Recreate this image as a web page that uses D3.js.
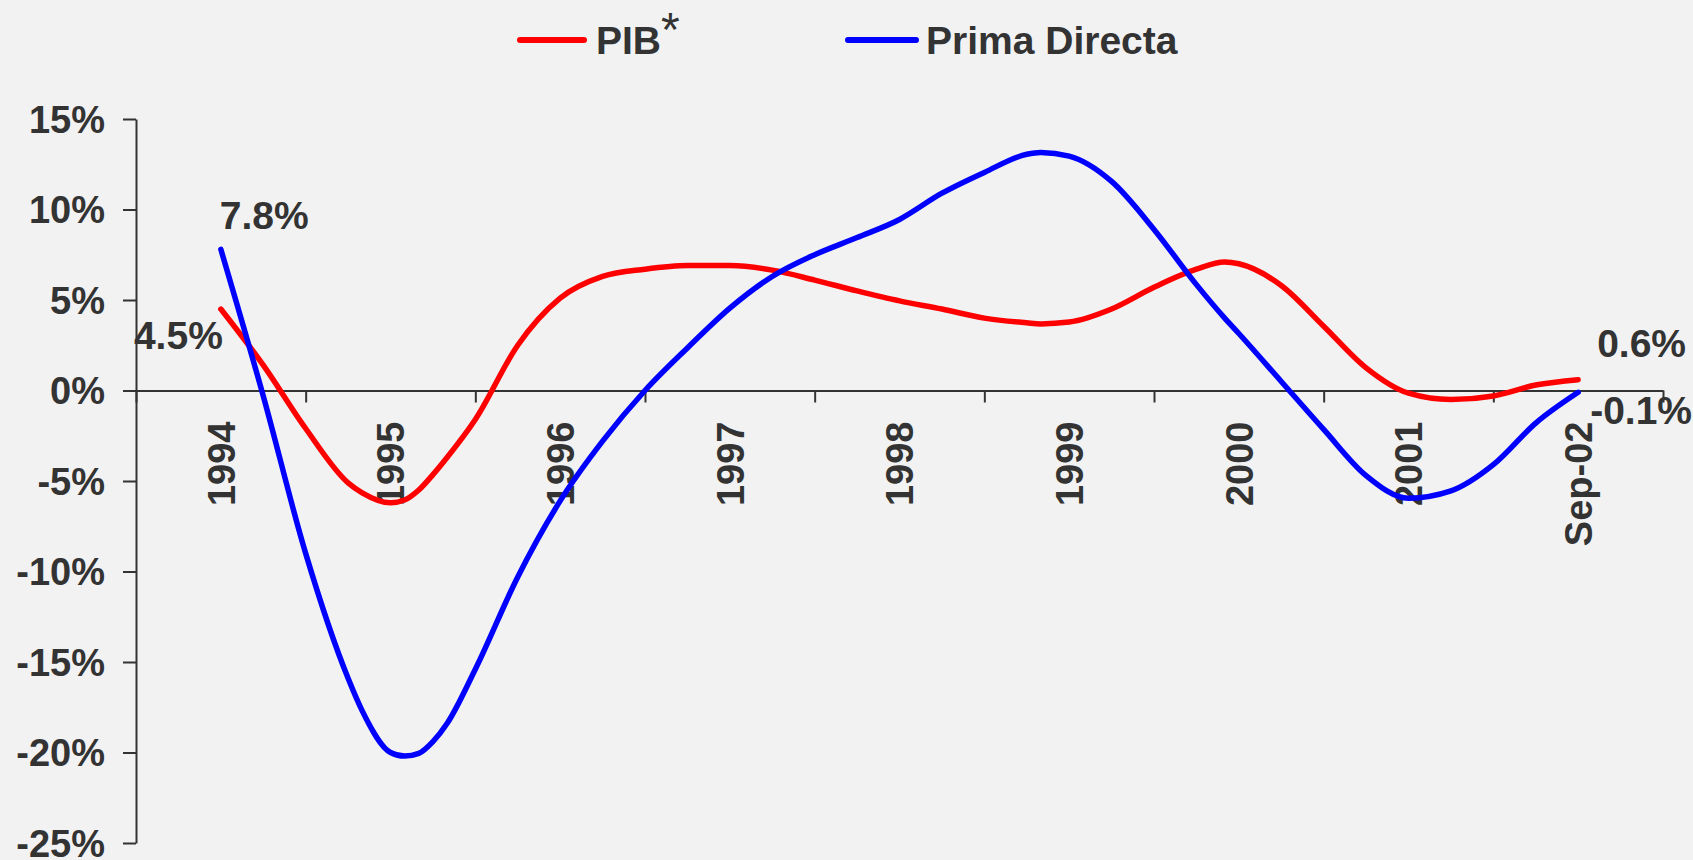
<!DOCTYPE html>
<html>
<head>
<meta charset="utf-8">
<script src="https://cdn.jsdelivr.net/npm/d3@7"></script>
<style>
  body { margin: 0; background: #f2f2f2; }
  svg { display: block; }
  text { font-family: "Liberation Sans", Arial, sans-serif; font-weight: bold; fill: #333; }
</style>
</head>
<body>
<div id="chart"></div>
<script>
// months counted from Sep-94 (quarterly readings, plus a few extra around turning points)
var months = [0, 3, 6, 9, 10, 12, 13, 14, 15, 16, 18, 21, 24, 27, 30, 33, 36, 39, 42, 45, 48,
              51, 54, 57, 58, 60, 63, 66, 69, 71, 72, 75, 78, 81, 84, 87, 90, 93, 96]
var pib = [4.5, 1.4, -2.1, -5.1, -5.65, -6.2, -6.05, -5.5, -4.65, -3.7, -1.6, 2.5, 5.1, 6.3,
           6.7, 6.9, 6.9, 6.65, 6.1, 5.5, 4.95, 4.5, 4.0, 3.74, 3.68, 3.78, 4.5, 5.7, 6.7, 7.1,
           7.0, 5.8, 3.55, 1.25, -0.15, -0.5, -0.3, 0.3, 0.6]
var primaDirecta = [7.8, -0.3, -9.0, -15.9, -17.7, -20.0, -20.2, -20.05, -19.4, -18.4, -15.4,
                    -10.3, -6.1, -2.8, 0.0, 2.35, 4.55, 6.3, 7.5, 8.45, 9.45, 10.9, 12.05,
                    13.05, 13.15, 12.95, 11.55, 8.9, 5.85, 4.0, 3.15, 0.5, -2.15, -4.7,
                    -5.95, -5.55, -4.1, -1.8, -0.1]

var labelMonths = [0, 12, 24, 36, 48, 60, 72, 84, 96]
var labelNames = ['1994', '1995', '1996', '1997', '1998', '1999', '2000', '2001', 'Sep-02']
var tickMonths = [-6, 6, 18, 30, 42, 54, 66, 78, 90, 102]
var yTicks = [15, 10, 5, 0, -5, -10, -15, -20, -25]

var width = 1693
var height = 860

var svg = d3.select('#chart').append('svg').attr('width', width).attr('height', height)
svg.append('rect').attr('width', width).attr('height', height).attr('fill', '#f2f2f2')

var x = d3.scaleLinear().domain([-6, 102]).range([136, 1663])
var y = d3.scaleLinear().domain([-25, 15]).range([843, 119])

// y axis
var yAxis = svg.append('g').attr('transform', 'translate(' + x(-6) + ',0)')
  .call(d3.axisLeft(y).tickValues(yTicks).tickFormat(d => d + '%').tickSize(13).tickSizeOuter(0).tickPadding(18))
yAxis.selectAll('text').style('font-size', '38px').attr('dy', '0.35em')

// x axis at zero
var xAxis = svg.append('g').attr('transform', 'translate(0,' + y(0) + ')')
  .call(d3.axisBottom(x).tickValues(tickMonths).tickFormat('').tickSize(12).tickSizeOuter(0))

svg.selectAll('.domain, .tick line').attr('stroke', '#333').attr('stroke-width', 2)

svg.append('g').selectAll('text')
  .data(labelMonths).join('text')
  .attr('transform', d => 'translate(' + x(d) + ',' + (y(0) + 31) + ') rotate(-90)')
  .attr('text-anchor', 'end')
  .attr('dy', '0.36em')
  .style('font-size', '38px')
  .text((d, i) => labelNames[i])

// series
var line = d3.line().x((d, i) => x(months[i])).y(d => y(d)).curve(d3.curveMonotoneX)

svg.append('path').datum(pib)
  .attr('d', line).attr('fill', 'none')
  .attr('stroke', '#ff0000').attr('stroke-width', 5.5).attr('stroke-linejoin', 'round').attr('stroke-linecap', 'round')

svg.append('path').datum(primaDirecta)
  .attr('d', line).attr('fill', 'none')
  .attr('stroke', '#0000ff').attr('stroke-width', 5.5).attr('stroke-linejoin', 'round').attr('stroke-linecap', 'round')

// end labels
var last = pib.length - 1
var endLabels = [
  {t: '7.8%', x: x(months[0]) - 1, y: y(primaDirecta[0]) - 20, a: 'start'},
  {t: '4.5%', x: x(months[0]) + 2, y: y(pib[0]) + 40, a: 'end'},
  {t: '0.6%', x: x(months[last]) + 19, y: y(pib[last]) - 23, a: 'start'},
  {t: '-0.1%', x: x(months[last]) + 12, y: y(primaDirecta[last]) + 32, a: 'start'}
]
svg.append('g').selectAll('text')
  .data(endLabels).join('text')
  .attr('x', d => d.x).attr('y', d => d.y)
  .attr('text-anchor', d => d.a)
  .style('font-size', '39px')
  .text(d => d.t)

// legend
var legend = svg.append('g')
legend.append('line').attr('x1', 520).attr('x2', 584).attr('y1', 40).attr('y2', 40)
  .attr('stroke', '#ff0000').attr('stroke-width', 6).attr('stroke-linecap', 'round')
var pibText = legend.append('text').attr('x', 596).attr('y', 54).style('font-size', '39px')
pibText.append('tspan').text('PIB')
pibText.append('tspan').attr('dy', -8).style('font-size', '48px').style('font-weight', 'normal').text('*')

legend.append('line').attr('x1', 848).attr('x2', 916).attr('y1', 40).attr('y2', 40)
  .attr('stroke', '#0000ff').attr('stroke-width', 6).attr('stroke-linecap', 'round')
legend.append('text').attr('x', 926).attr('y', 54).style('font-size', '39px').text('Prima Directa')
</script>
</body>
</html>
